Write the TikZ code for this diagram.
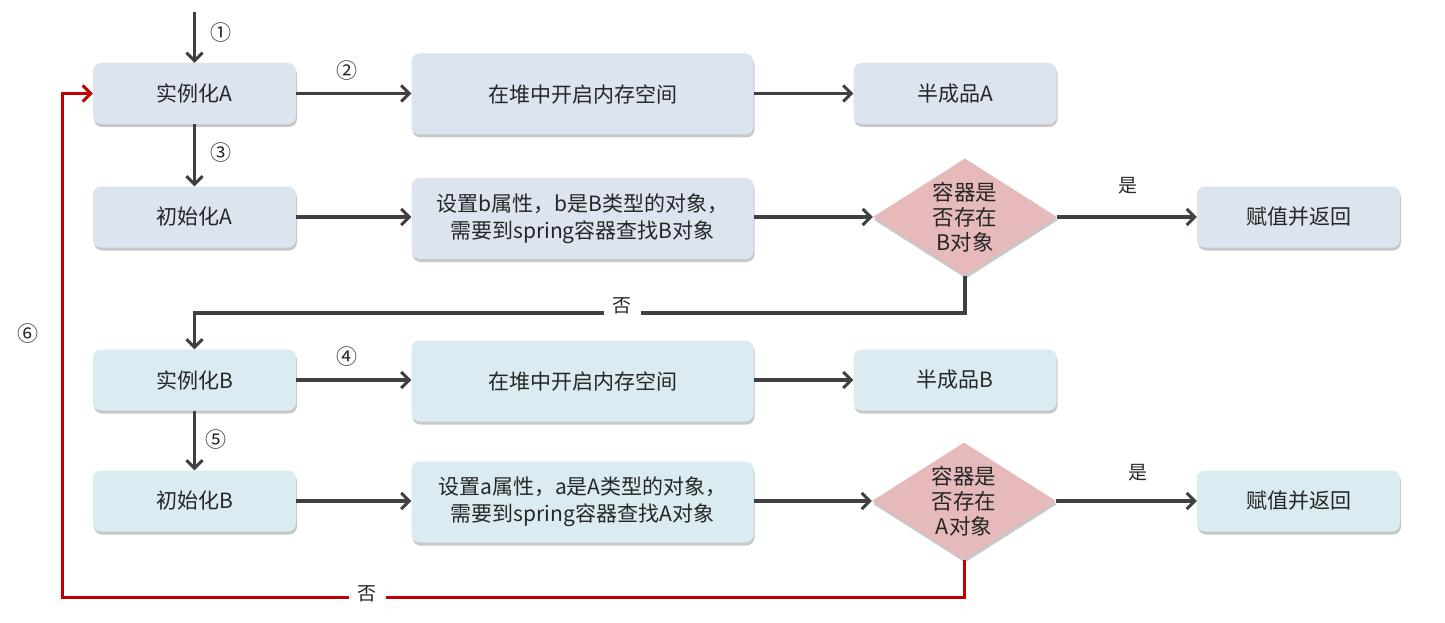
\documentclass[tikz,border=0pt]{standalone}
\usepackage{fontspec}
\setmainfont{Noto Sans CJK SC}
\usetikzlibrary{arrows.meta,shapes.geometric,shadows,calc}
\definecolor{fillA}{HTML}{DCE4F0}
\definecolor{fillB}{HTML}{DAEBF1}
\definecolor{diafill}{HTML}{E6B9BA}
\definecolor{txt}{HTML}{262626}
\definecolor{arrgray}{HTML}{404040}
\definecolor{redline}{HTML}{C00000}
\begin{document}
\begin{tikzpicture}[x=1pt,y=-1pt,
  shad/.style={drop shadow={shadow xshift=1pt,shadow yshift=-3pt,opacity=0.3,fill=black!70}},
  box/.style={rectangle,rounded corners=8pt,minimum width=203pt,minimum height=61pt,inner sep=0pt,
    font=\fontsize{21}{27}\selectfont,text=txt,align=center,shad},
  wide/.style={box,minimum width=342pt,minimum height=81pt},
  dia/.style={diamond,fill=diafill,minimum width=184pt,minimum height=117pt,inner sep=0pt,shad},
  diatext/.style={font=\fontsize{21.5}{25}\selectfont,text=txt,align=center,inner sep=0pt},
  lbl/.style={font=\fontsize{21}{22}\selectfont,text=txt,inner sep=1pt},
  arr/.style={draw=arrgray,line width=3.2pt,-{Straight Barb[length=8pt,width=16pt,line width=3pt]}},
  arrred/.style={draw=redline,line width=3pt,-{Straight Barb[length=8pt,width=16pt,line width=3pt]}}]
\useasboundingbox[fill=white] (0,0) rectangle (1445,623);

% Row A
\node[box,fill=fillA] (ia) at (194.5,93.5) {实例化A};
\node[wide,fill=fillA] (ha) at (582.5,94) {在堆中开启内存空间};
\node[box,fill=fillA] (ba) at (955,93.5) {半成品A};
\node[box,fill=fillA] (ca) at (194.5,217) {初始化A};
\node[wide,fill=fillA] (sa) at (582.5,218.5) {设置b属性，b是B类型的对象，\\需要到spring容器查找B对象};
\node[dia] (da) at (965,217) {};
\node[diatext] (dat) at (da) {容器是\\否存在\\B对象};
\node[box,fill=fillA] (ra) at (1298.5,217) {赋值并返回};

% Row B
\node[box,fill=fillB] (ib) at (194.5,380) {实例化B};
\node[wide,fill=fillB] (hb) at (582.5,381) {在堆中开启内存空间};
\node[box,fill=fillB] (bb) at (955,380) {半成品B};
\node[box,fill=fillB] (cb) at (194.5,501) {初始化B};
\node[wide,fill=fillB] (sb) at (582.5,502) {设置a属性，a是A类型的对象，\\需要到spring容器查找A对象};
\node[dia] (db) at (964,501) {};
\node[diatext] (dbt) at (db) {容器是\\否存在\\A对象};
\node[box,fill=fillB] (rb) at (1298.5,501) {赋值并返回};

% connectors
\coordinate (start) at (194.5,12);
\draw[arr] (start) -- (ia.north);
\draw[arr] (ia.east) -- (ia.east -| ha.west);
\draw[arr] (ha.east |- ba.west) -- (ba.west);
\draw[arr] (ia.south) -- (ca.north);
\draw[arr] (ca.east) -- (ca.east -| sa.west);
\draw[arr] (sa.east |- da.west) -- (da.west);
\draw[arr] (da.east) -- (da.east -| ra.west);
\coordinate (na) at (965,313);
\draw[arr] (da.south) -- (na) -| (ib.north);

\draw[arr] (ib.east) -- (ib.east -| hb.west);
\draw[arr] (hb.east |- bb.west) -- (bb.west);
\draw[arr] (ib.south) -- (cb.north);
\draw[arr] (cb.east) -- (cb.east -| sb.west);
\draw[arr] (sb.east |- db.west) -- (db.west);
\draw[arr] (db.east) -- (db.east -| rb.west);
\coordinate (rc) at (62,597);
\draw[arrred] (db.south) |- (rc) -- (rc |- ia.west) -- (ia.west);

% labels
\node[lbl] at (221,33) {①};
\node[lbl] at (347,71) {②};
\node[lbl] at (221,153) {③};
\node[lbl] at (347,357) {④};
\node[lbl] at (216,440) {⑤};
\node[lbl] at (28,334) {⑥};
\node[lbl,font=\fontsize{19}{20}\selectfont] at (1128,186) {是};
\node[lbl,font=\fontsize{19}{20}\selectfont] at (1138,473) {是};
\node[lbl,font=\fontsize{19}{20}\selectfont,fill=white,inner xsep=9pt,inner ysep=4pt] at (622,306) {否};
\node[lbl,font=\fontsize{19}{20}\selectfont,fill=white,inner xsep=9pt,inner ysep=4pt] at (367,594) {否};
\end{tikzpicture}
\end{document}
